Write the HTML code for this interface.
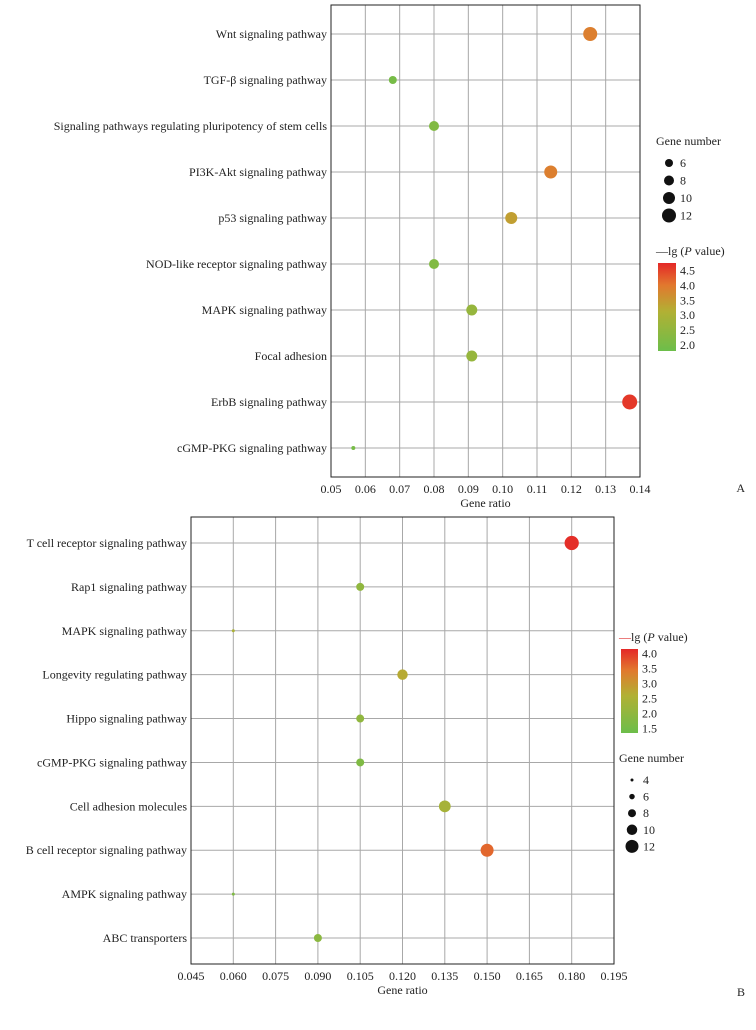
<!DOCTYPE html>
<html><head><meta charset="utf-8"><style>
body{margin:0;background:#fff;}
svg{display:block;font-family:"Liberation Serif",serif;}
</style></head><body>
<svg id="c" width="756" height="1030" viewBox="0 0 756 1030" xmlns="http://www.w3.org/2000/svg"></svg>
<script>
const catsA=["Wnt signaling pathway","TGF-β signaling pathway","Signaling pathways regulating pluripotency of stem cells","PI3K-Akt signaling pathway","p53 signaling pathway","NOD-like receptor signaling pathway","MAPK signaling pathway","Focal adhesion","ErbB signaling pathway","cGMP-PKG signaling pathway"];
const ratioA=[0.1255,0.068,0.080,0.114,0.1025,0.080,0.091,0.091,0.137,0.0565];
const countA=[12,6,8,11,10,8,9,9,13,2];
const pvalA=[3.9,2.0,2.2,3.9,3.4,2.2,2.6,2.6,4.6,2.0];
const ticksA=["0.05","0.06","0.07","0.08","0.09","0.10","0.11","0.12","0.13","0.14"];
const cbA=["4.5","4.0","3.5","3.0","2.5","2.0"];
const sizeLegA=[6,8,10,12];

const catsB=["T cell receptor signaling pathway","Rap1 signaling pathway","MAPK signaling pathway","Longevity regulating pathway","Hippo signaling pathway","cGMP-PKG signaling pathway","Cell adhesion molecules","B cell receptor signaling pathway","AMPK signaling pathway","ABC transporters"];
const ratioB=[0.180,0.105,0.060,0.120,0.105,0.105,0.135,0.150,0.060,0.090];
const countB=[13,8,4,10,8,8,11,12,4,8];
const pvalB=[4.1,2.0,2.5,2.7,2.0,1.7,2.4,3.6,1.7,1.9];
const ticksB=["0.045","0.060","0.075","0.090","0.105","0.120","0.135","0.150","0.165","0.180","0.195"];
const cbB=["4.0","3.5","3.0","2.5","2.0","1.5"];
const sizeLegB=[4,6,8,10,12];

const NS="http://www.w3.org/2000/svg";
const svg=document.getElementById('c');
function mk(t,a,txt){const e=document.createElementNS(NS,t);for(const k in a)e.setAttribute(k,a[k]);if(txt!==undefined)e.textContent=txt;svg.appendChild(e);return e;}
function lerp(a,b,t){return a.map((v,i)=>Math.round(v+(b[i]-v)*t));}
const stopsT=[0,0.45,0.75,1];
const stopsC=[[108,190,74],[178,176,52],[226,120,46],[228,40,40]];
function col(t){t=Math.max(0,Math.min(1,t));let i=0;while(i<2&&t>stopsT[i+1])i++;
 const c=lerp(stopsC[i],stopsC[i+1],(t-stopsT[i])/(stopsT[i+1]-stopsT[i]));return `rgb(${c[0]},${c[1]},${c[2]})`;}

function panel(o){
 const {cats,ratio,count,pval,ticks,x0,x1,y0,y1,xmin,xmax,vmin,vmax,rA,rB,id}=o;
 const xs=v=>x0+(v-xmin)/(xmax-xmin)*(x1-x0);
 const n=cats.length, step=(y1-y0-2*o.pad)/(n-1);
 const ys=i=>y0+o.pad+i*step;
 const rs=c=>Math.max(1,rA+rB*c);
 ticks.forEach((t,i)=>{const x=xs(parseFloat(t));
  let g=mk('line',{x1:x,x2:x,y1:y0,y2:y1,stroke:'#a8a8a8','stroke-width':1});
  
  let l=mk('text',{x:x,y:y1+16,'font-size':12,'text-anchor':'middle',fill:'#222'},t);
  });
 cats.forEach((c,i)=>{const y=ys(i);
  let g=mk('line',{x1:x0,x2:x1,y1:y,y2:y,stroke:'#a8a8a8','stroke-width':1});
  
  let l=mk('text',{x:x0-4,y:y+4,'font-size':12,'text-anchor':'end',fill:'#222'},c);
  });
 let fr=mk('rect',{x:x0,y:y0,width:x1-x0,height:y1-y0,fill:'none',stroke:'#222','stroke-width':1});
 
 cats.forEach((c,i)=>{
  let p=mk('circle',{cx:xs(ratio[i]),cy:ys(i),r:rs(count[i]),fill:col((pval[i]-vmin)/(vmax-vmin))});
  });
 let xt=mk('text',{x:(x0+x1)/2,y:y1+30,'font-size':12,'text-anchor':'middle',fill:'#222'},'Gene ratio');
 
 let pl=mk('text',{x:745,y:o.labY,'font-size':12,'text-anchor':'end',fill:'#222'},id);
 
 const cb=o.cb, gid='g'+id;
 const d=mk('defs',{});const lg=document.createElementNS(NS,'linearGradient');
 lg.setAttribute('id',gid);lg.setAttribute('x1','0');lg.setAttribute('y1','1');lg.setAttribute('x2','0');lg.setAttribute('y2','0');
 for(let k=0;k<=20;k++){const s=document.createElementNS(NS,'stop');s.setAttribute('offset',k/20);s.setAttribute('stop-color',col(k/20));lg.appendChild(s);}
 d.appendChild(lg);
 let ct=mk('text',{x:cb.x-2,y:cb.y-8,'font-size':12,fill:'#222'});ct.innerHTML='<tspan fill="'+(id=='A'?'#222':'#d22')+'">—</tspan>lg (<tspan font-style="italic">P</tspan> value)';
 
 let cr=mk('rect',{x:cb.x,y:cb.y,width:cb.w,height:cb.h,fill:`url(#${gid})`});
 
 o.cbLab.forEach((t,k)=>{const v=parseFloat(t);const y=cb.y+cb.h-(v-vmin)/(vmax-vmin)*cb.h;
  let l=mk('text',{x:cb.x+cb.w+4,y:y+4,'font-size':12,fill:'#222'},t);
  });
 const sl=o.sl;
 let st=mk('text',{x:sl.x,y:sl.y,'font-size':12,fill:'#222'},'Gene number');
 
 o.sizes.forEach((s,k)=>{const y=sl.y+18+k*sl.dy;
  let c=mk('circle',{cx:sl.x+13,cy:y,r:rs(s),fill:'#111'});
  
  let l=mk('text',{x:sl.x+24,y:y+4,'font-size':12,fill:'#222'},String(s));
  });
}
panel({id:'A',cats:catsA,ratio:ratioA,count:countA,pval:pvalA,ticks:ticksA,x0:331,x1:640,y0:5,y1:477,pad:29,xmin:0.05,xmax:0.14,vmin:1.8,vmax:4.75,rA:1,rB:0.5,labY:492,
 cb:{x:658,y:263,w:18,h:88},cbLab:cbA,sl:{x:656,y:145,dy:17.5},sizes:sizeLegA});
panel({id:'B',cats:catsB,ratio:ratioB,count:countB,pval:pvalB,ticks:ticksB,x0:191,x1:614,y0:517,y1:964,pad:26,xmin:0.045,xmax:0.195,vmin:1.35,vmax:4.15,rA:-1,rB:0.625,labY:996,
 cb:{x:621,y:649,w:17,h:84},cbLab:cbB,sl:{x:619,y:762,dy:16.6},sizes:sizeLegB});
</script>
</body></html>
